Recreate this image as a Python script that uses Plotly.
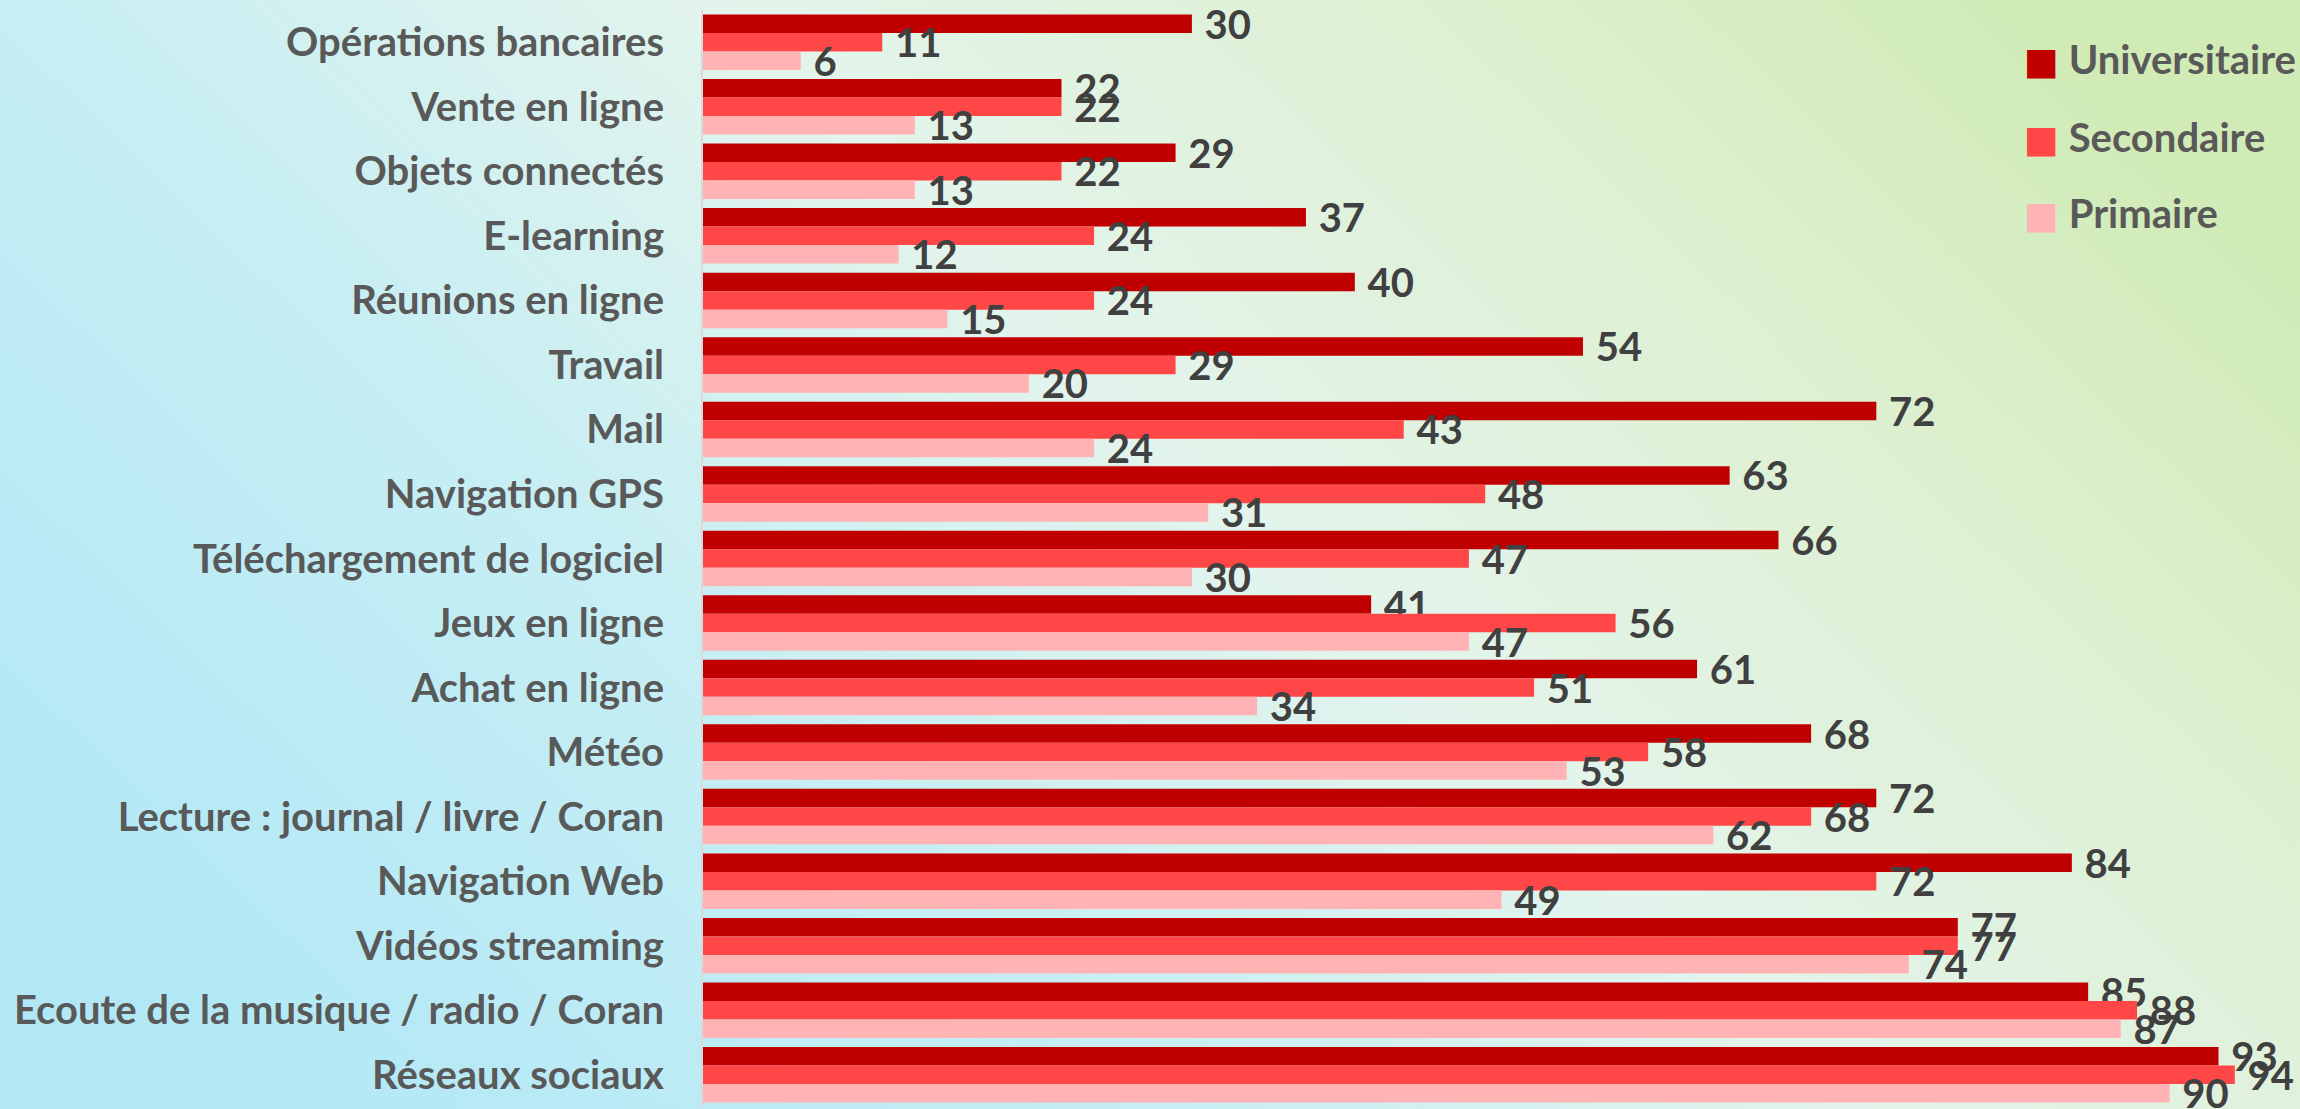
import base64

import plotly.graph_objects as go

categories = [
    "Opérations bancaires", "Vente en ligne", "Objets connectés", "E-learning",
    "Réunions en ligne", "Travail", "Mail", "Navigation GPS",
    "Téléchargement de logiciel", "Jeux en ligne", "Achat en ligne", "Météo",
    "Lecture : journal / livre / Coran", "Navigation Web", "Vidéos streaming",
    "Ecoute de la musique / radio / Coran", "Réseaux sociaux",
]
universitaire = [30, 22, 29, 37, 40, 54, 72, 63, 66, 41, 61, 68, 72, 84, 77, 85, 93]
secondaire = [11, 22, 22, 24, 24, 29, 43, 48, 47, 56, 51, 58, 68, 72, 77, 88, 94]
primaire = [6, 13, 13, 12, 15, 20, 24, 31, 30, 47, 34, 53, 62, 49, 74, 87, 90]

series = [
    ("Universitaire", universitaire, "#C00000"),
    ("Secondaire", secondaire, "#FF4747"),
    ("Primaire", primaire, "#FFB3B5"),
]

# fond dégradé bleu -> vert
svg = (
    "<svg xmlns='http://www.w3.org/2000/svg' width='2300' height='1109' "
    "viewBox='0 0 2300 1109' preserveAspectRatio='none'><defs>"
    "<linearGradient id='g' x1='0' y1='0.75' x2='1' y2='0.25'>"
    "<stop offset='0' stop-color='#B2E8F6'/>"
    "<stop offset='0.3' stop-color='#C6EEF4'/>"
    "<stop offset='0.55' stop-color='#E3F4EC'/>"
    "<stop offset='0.8' stop-color='#DDF0D0'/>"
    "<stop offset='1' stop-color='#D0EBB6'/>"
    "</linearGradient></defs>"
    "<rect width='2300' height='1109' fill='url(#g)'/></svg>"
)
bg_src = "data:image/svg+xml;base64," + base64.b64encode(svg.encode()).decode()

fig = go.Figure()
for name, vals, color in series:
    fig.add_trace(go.Bar(
        y=categories, x=vals, name=name, orientation="h",
        marker=dict(color=color, line=dict(width=0)),
        text=vals, texttemplate="\u00a0%{x}", textposition="outside",
        textfont=dict(family="Lato", size=40, color="#404040", weight="bold"),
        constraintext="none", cliponaxis=False, showlegend=False,
    ))

plot_h = 1109 - 10 - 2

# légende dessinée à la main pour avoir des carrés de la bonne taille
legend_y = [59, 137, 213]
for (name, _, color), ly in zip(series, legend_y):
    fig.add_annotation(
        xref="paper", yref="paper", x=2022 / 2300, y=1 - (ly - 10) / plot_h,
        xanchor="left", yanchor="middle", showarrow=False,
        text=(f"<span style='color:{color};font-family:DejaVu Sans;font-size:37px'>"
              f"\u25a0</span> {name}"),
        font=dict(family="Lato", size=40, color="#595959", weight="bold"),
    )

fig.update_layout(
    width=2300, height=1109,
    barmode="group", bargap=0.14, bargroupgap=0,
    margin=dict(l=0, r=0, t=10, b=2),
    paper_bgcolor="#D8F0E4", plot_bgcolor="rgba(0,0,0,0)",
    images=[dict(
        source=bg_src, xref="paper", yref="paper",
        x=0, y=1 + 10 / plot_h, sizex=1, sizey=1 + 12 / plot_h,
        sizing="stretch", layer="below",
    )],
    showlegend=False,
    font=dict(family="Lato"),
)
fig.update_xaxes(
    domain=[703 / 2300, 1], range=[0, 98],
    showgrid=False, zeroline=False, showticklabels=False, ticks="",
)
fig.update_yaxes(
    categoryorder="array", categoryarray=categories, autorange="reversed",
    showgrid=False, showline=True, linecolor="#D9D9D9", linewidth=2,
    ticks="", ticklabelstandoff=29,
    tickfont=dict(family="Lato", size=40, color="#595959", weight="bold"),
)

fig.write_html("out.html", config={"displayModeBar": False},
               post_script="document.body.style.margin='0';")
